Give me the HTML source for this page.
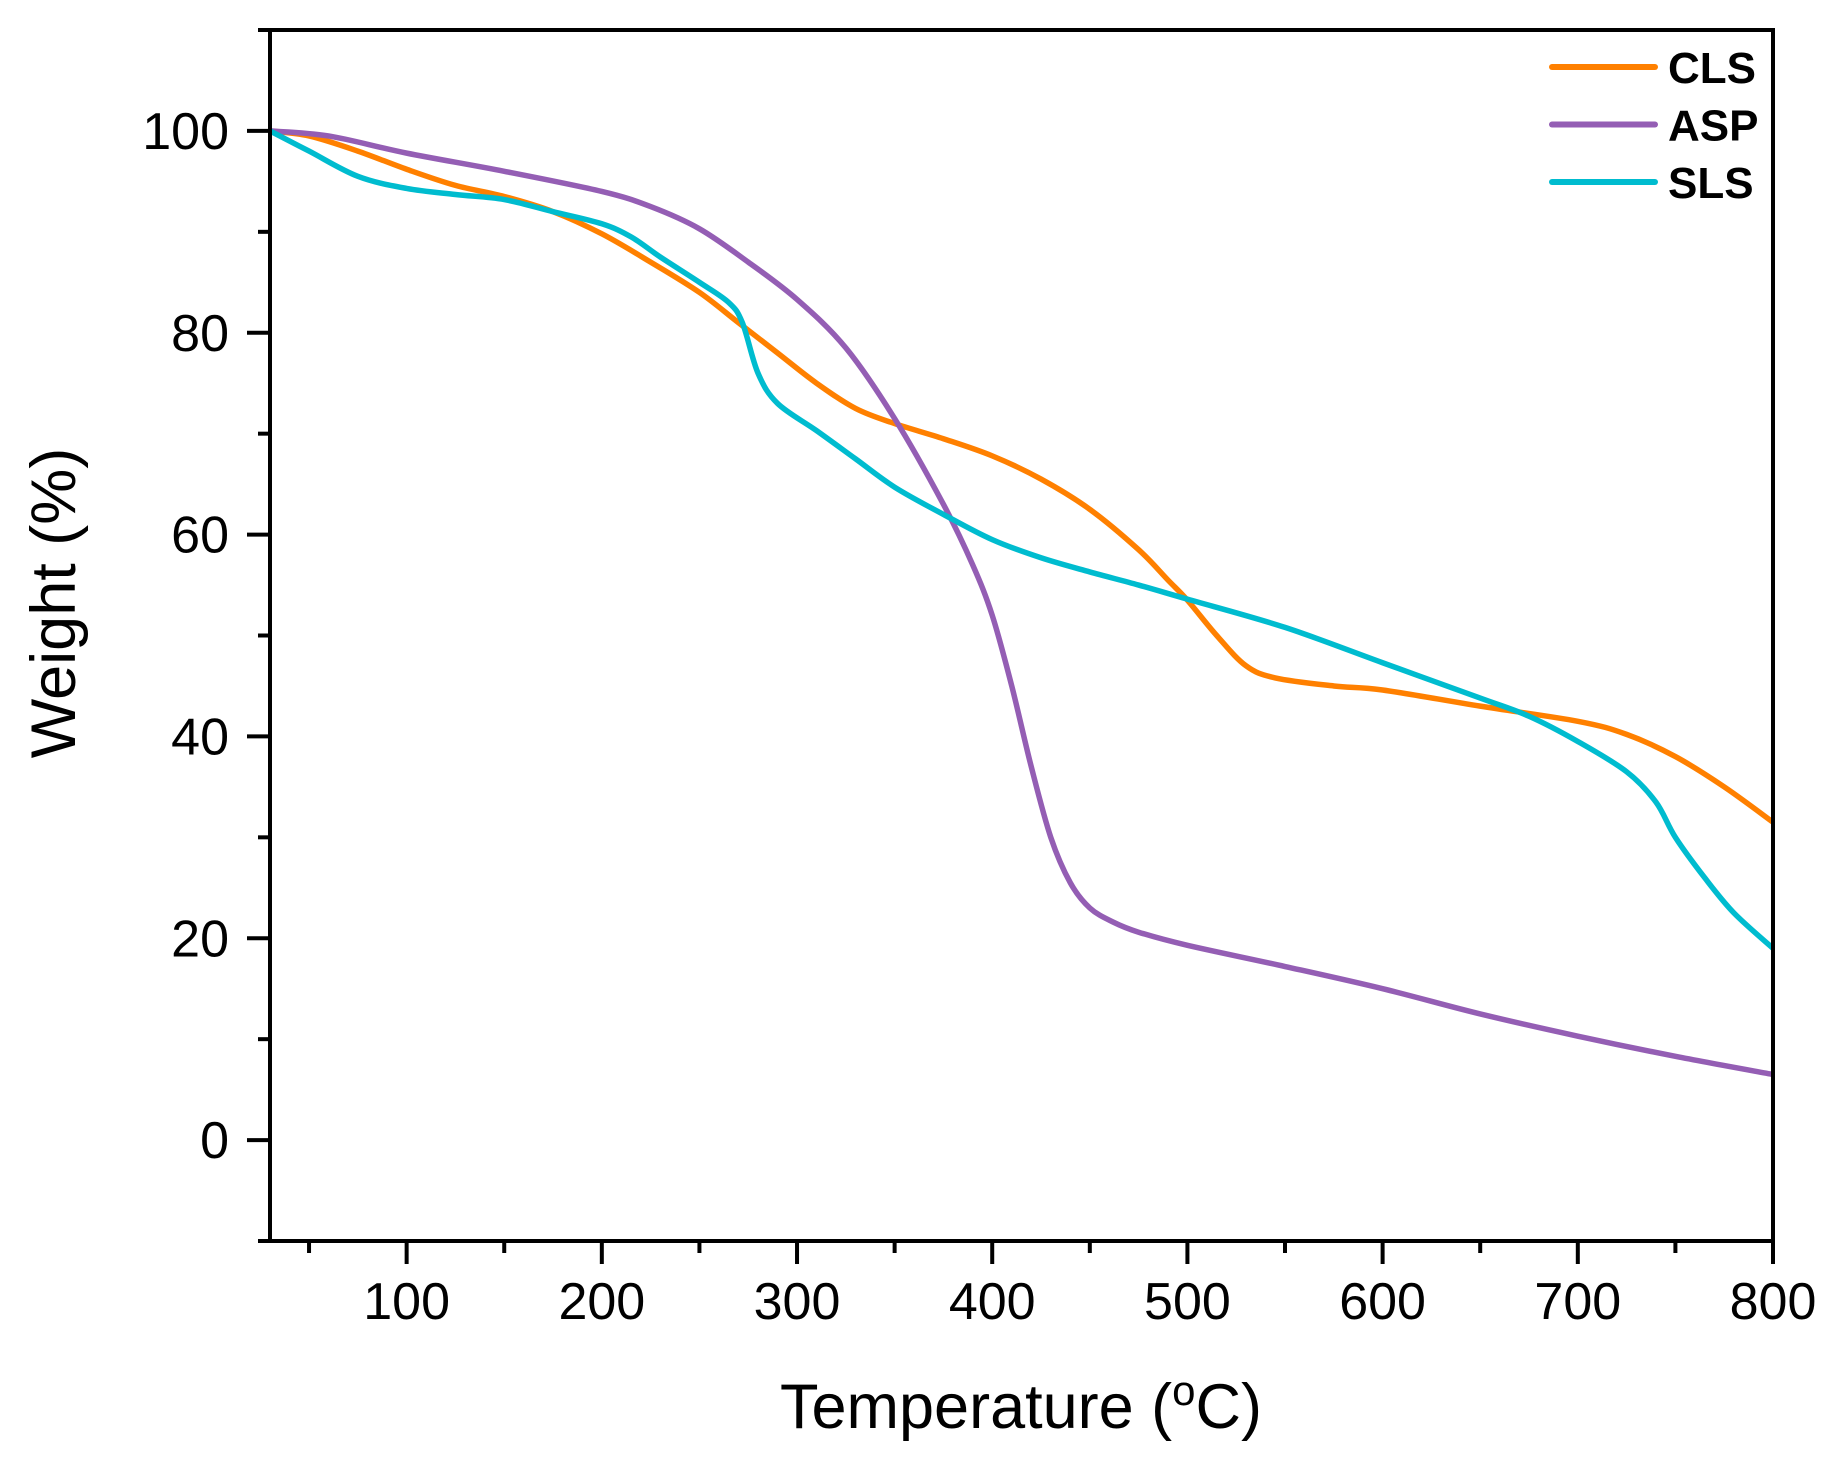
<!DOCTYPE html>
<html><head><meta charset="utf-8"><style>
html,body{margin:0;padding:0;background:#fff;}
svg text{font-family:"Liberation Sans",Arial,sans-serif;}
</style></head><body>
<svg id="chart" width="1833" height="1455" viewBox="0 0 1833 1455" xmlns="http://www.w3.org/2000/svg">
<g id="grid-layer"></g>
<g id="series-layer"></g>
<g id="axes-layer"></g>
<g id="legend-layer"></g>
</svg>
<script>
const xTicks = [100,200,300,400,500,600,700,800];
const yTicks = [0,20,40,60,80,100];
const clsT = [30,50,75,100,125,150,175,200,225,250,270,290,310,330,350,375,400,425,450,475,490,500,515,530,545,575,600,650,700,725,750,775,800];
const clsW = [100,99.5,98,96.2,94.6,93.5,92,89.8,87,84,81,78,75,72.5,71,69.5,67.8,65.5,62.5,58.5,55.5,53.5,50,47,45.8,45,44.6,43,41.5,40.2,38,35,31.5];
const aspT = [30,60,100,150,200,225,250,275,300,325,350,375,390,400,410,420,430,440,450,462,475,500,550,600,650,700,750,800];
const aspW = [100,99.5,97.8,96,94,92.5,90.3,87,83.3,78.5,71.5,63,57,52,45,37,30,25.5,23,21.6,20.6,19.3,17.2,15,12.5,10.3,8.3,6.5];
const slsT = [30,50,75,100,125,150,175,200,215,230,250,265,272,280,290,310,330,350,375,400,425,450,475,500,550,600,650,675,700,725,740,750,765,780,800];
const slsW = [100,98,95.5,94.3,93.7,93.2,92,90.8,89.5,87.5,85,83,81,76,73,70.3,67.5,64.7,62,59.5,57.7,56.3,55,53.6,50.8,47.3,43.8,42,39.5,36.5,33.5,30,26,22.5,19];

const NS="http://www.w3.org/2000/svg";
const X0=270,X1=1773,Y0=1241,Y1=30;
const xMin=30,xMax=800,yMin=-10,yMax=110;
function sx(v){return X0+(v-xMin)/(xMax-xMin)*(X1-X0);}
function sy(v){return Y0-(v-yMin)/(yMax-yMin)*(Y0-Y1);}
function mk(tag,attrs,parent){const e=document.createElementNS(NS,tag);for(const k in attrs)e.setAttribute(k,attrs[k]);parent.appendChild(e);return e;}
const series=document.getElementById('series-layer');
const axes=document.getElementById('axes-layer');
const legend=document.getElementById('legend-layer');

function smoothPath(T,W){
  const p=T.map((t,i)=>[sx(t),sy(W[i])]);
  let d=`M${p[0][0]},${p[0][1]}`;
  for(let i=0;i<p.length-1;i++){
    const p0=p[i-1]||p[i],p1=p[i],p2=p[i+1],p3=p[i+2]||p2;
    const c1=[p1[0]+(p2[0]-p0[0])/6,p1[1]+(p2[1]-p0[1])/6];
    const c2=[p2[0]-(p3[0]-p1[0])/6,p2[1]-(p3[1]-p1[1])/6];
    d+=` C${c1[0]},${c1[1]} ${c2[0]},${c2[1]} ${p2[0]},${p2[1]}`;
  }
  return d;
}
const defs=[["cls",clsT,clsW,"#ff8000","CLS"],["asp",aspT,aspW,"#945eb4","ASP"],["sls",slsT,slsW,"#00bccf","SLS"]];
defs.forEach((s,i)=>{
  const p=mk('path',{d:smoothPath(s[1],s[2]),fill:'none',stroke:s[3],'stroke-width':5.5,'stroke-linejoin':'round'},series);
  
  
  const ly=67+i*57.5;
  const l=mk('line',{x1:1552,x2:1655,y1:ly,y2:ly,stroke:s[3],'stroke-width':6,'stroke-linecap':'round'},legend);
  
  
  const t=mk('text',{x:1668,y:ly+16,'font-size':44,'font-weight':'bold',fill:'#000'},legend);
  t.textContent=s[4];
  
  
});

const fr=mk('rect',{x:X0,y:Y1,width:X1-X0,height:Y0-Y1,fill:'none',stroke:'#000','stroke-width':4},axes);


for(let v=50;v<=800;v+=50){
  const major=v%100===0;
  const t=mk('line',{x1:sx(v),x2:sx(v),y1:Y0,y2:Y0+(major?23:12),stroke:'#000','stroke-width':4},axes);
  
  
}
xTicks.forEach(v=>{
  const t=mk('text',{x:sx(v),y:1319,'font-size':52,'text-anchor':'middle',fill:'#000'},axes);
  t.textContent=v;
  
  
});
for(let v=-10;v<=110;v+=10){
  const major=v%20===0;
  const t=mk('line',{x1:X0,x2:X0-(major?23:12),y1:sy(v),y2:sy(v),stroke:'#000','stroke-width':4},axes);
  
  
}
yTicks.forEach(v=>{
  const t=mk('text',{x:229,y:sy(v)+18,'font-size':52,'text-anchor':'end',fill:'#000'},axes);
  t.textContent=v;
  
  
});
const xt=mk('text',{x:1021,y:1428,'font-size':63,'text-anchor':'middle',fill:'#000'},axes);
xt.innerHTML='Temperature (<tspan font-size="42" dy="-23">o</tspan><tspan dy="23">C)</tspan>';


const yt=mk('text',{x:0,y:0,'font-size':63,'text-anchor':'middle',fill:'#000',transform:'translate(75,603) rotate(-90)'},axes);
yt.textContent='Weight (%)';


</script>
</body></html>
